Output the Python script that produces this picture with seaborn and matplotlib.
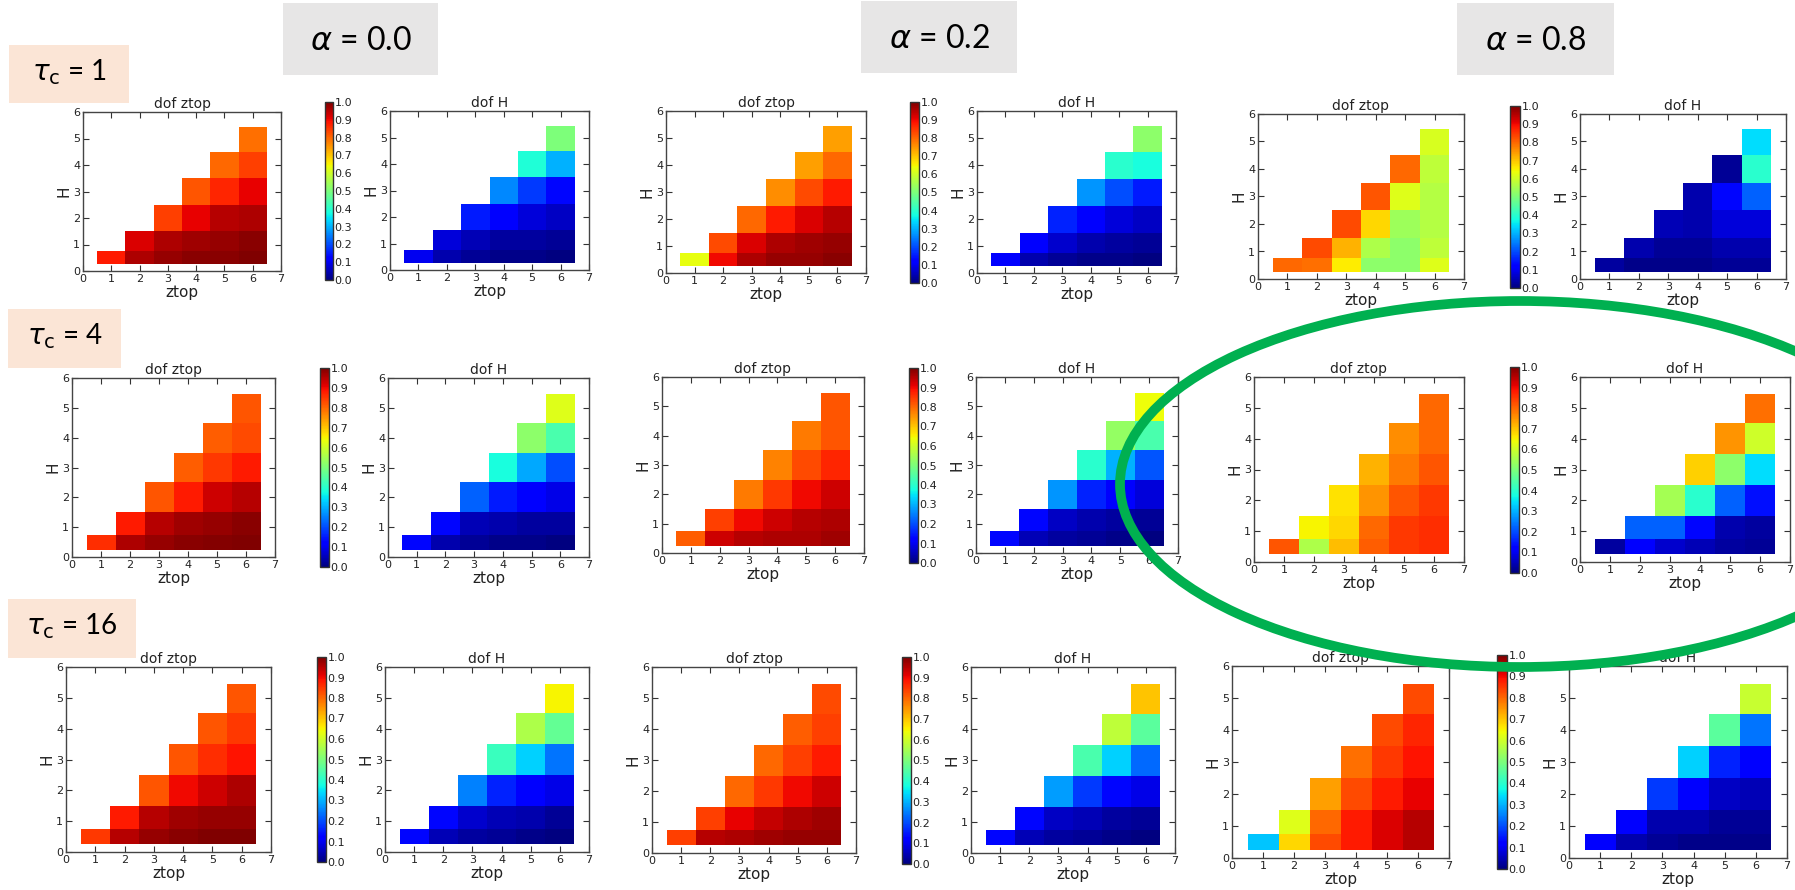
import numpy as np
import matplotlib
matplotlib.use("Agg")
import matplotlib as mpl
import matplotlib.pyplot as plt
import seaborn as sns
from matplotlib.patches import Rectangle, Ellipse
from matplotlib.cm import ScalarMappable
from matplotlib.colors import Normalize

# ---------------- data ----------------
ZTOP = [1, 2, 3, 4, 5, 6]
X_TICKS = [0, 1, 2, 3, 4, 5, 6, 7]
Y_TICKS = [0, 1, 2, 3, 4, 5, 6]
CB_TICKS = [0.0, 0.1, 0.2, 0.3, 0.4, 0.5, 0.6, 0.7, 0.8, 0.9, 1.0]
ALPHA_LABELS = ["0.0", "0.2", "0.8"]
TAU_LABELS = ["1", "4", "16"]

# each panel: list of columns (ztop = 1..6), values listed from bottom H row upward
tau1_a00_ztop = [[0.88], [0.96, 0.92], [0.98, 0.96, 0.84], [0.99, 0.97, 0.91, 0.82],
                 [0.99, 0.98, 0.95, 0.87, 0.80], [1.00, 0.99, 0.96, 0.91, 0.84, 0.79]]
tau1_a00_H = [[0.10], [0.04, 0.08], [0.02, 0.05, 0.15], [0.01, 0.03, 0.12, 0.26],
              [0.01, 0.03, 0.08, 0.18, 0.39], [0.00, 0.02, 0.06, 0.13, 0.30, 0.50]]
tau1_a02_ztop = [[0.63], [0.90, 0.83], [0.96, 0.92, 0.80], [0.98, 0.96, 0.88, 0.76],
                 [0.98, 0.97, 0.92, 0.83, 0.74], [0.99, 0.98, 0.95, 0.88, 0.80, 0.74]]
tau1_a02_H = [[0.11], [0.04, 0.12], [0.02, 0.07, 0.16], [0.01, 0.04, 0.12, 0.27],
              [0.01, 0.03, 0.08, 0.20, 0.40], [0.00, 0.02, 0.06, 0.15, 0.38, 0.52]]
tau1_a08_ztop = [[0.80], [0.79, 0.83], [0.66, 0.72, 0.83], [0.52, 0.56, 0.68, 0.82],
                 [0.52, 0.52, 0.54, 0.62, 0.80], [0.62, 0.58, 0.57, 0.57, 0.58, 0.61]]
tau1_a08_H = [[0.03], [0.01, 0.04], [0.01, 0.02, 0.05], [0.01, 0.02, 0.04, 0.04],
              [0.02, 0.04, 0.08, 0.13, 0.02], [0.02, 0.04, 0.08, 0.22, 0.40, 0.34]]

tau4_a00_ztop = [[0.86], [0.96, 0.88], [0.98, 0.95, 0.82], [0.99, 0.97, 0.88, 0.81],
                 [0.995, 0.98, 0.93, 0.85, 0.81], [1.00, 0.99, 0.95, 0.88, 0.83, 0.82]]
tau4_a00_H = [[0.13], [0.04, 0.13], [0.02, 0.05, 0.22], [0.01, 0.04, 0.15, 0.38],
              [0.01, 0.03, 0.12, 0.29, 0.52], [0.00, 0.03, 0.09, 0.20, 0.44, 0.62]]
tau4_a02_ztop = [[0.81], [0.93, 0.84], [0.95, 0.90, 0.78], [0.96, 0.93, 0.85, 0.77],
                 [0.96, 0.95, 0.90, 0.83, 0.78], [0.97, 0.96, 0.93, 0.87, 0.82, 0.82]]
tau4_a02_H = [[0.13], [0.05, 0.13], [0.03, 0.06, 0.27], [0.02, 0.04, 0.16, 0.40],
              [0.01, 0.03, 0.12, 0.30, 0.53], [0.00, 0.02, 0.08, 0.21, 0.44, 0.64]]
tau4_a08_ztop = [[0.82], [0.56, 0.65], [0.71, 0.68, 0.67], [0.81, 0.80, 0.75, 0.72],
                 [0.85, 0.85, 0.82, 0.78, 0.76], [0.86, 0.86, 0.85, 0.82, 0.80, 0.80]]
tau4_a08_H = [[0.03], [0.12, 0.22], [0.07, 0.22, 0.55], [0.05, 0.13, 0.40, 0.69],
              [0.03, 0.04, 0.22, 0.52, 0.75], [0.02, 0.03, 0.14, 0.34, 0.60, 0.79]]

tau16_a00_ztop = [[0.85], [0.95, 0.88], [0.98, 0.95, 0.82], [0.99, 0.97, 0.90, 0.82],
                  [1.00, 0.98, 0.93, 0.86, 0.82], [1.00, 0.98, 0.96, 0.89, 0.85, 0.82]]
tau16_a00_H = [[0.13], [0.05, 0.13], [0.03, 0.07, 0.25], [0.02, 0.05, 0.16, 0.42],
               [0.01, 0.04, 0.12, 0.33, 0.56], [0.00, 0.02, 0.09, 0.24, 0.47, 0.65]]
tau16_a02_ztop = [[0.84], [0.95, 0.84], [0.96, 0.91, 0.80], [0.97, 0.94, 0.85, 0.80],
                  [0.98, 0.96, 0.90, 0.84, 0.81], [0.98, 0.97, 0.93, 0.88, 0.84, 0.83]]
tau16_a02_H = [[0.13], [0.05, 0.13], [0.03, 0.06, 0.28], [0.02, 0.05, 0.18, 0.44],
               [0.01, 0.03, 0.13, 0.33, 0.58], [0.00, 0.02, 0.09, 0.23, 0.46, 0.70]]
tau16_a08_ztop = [[0.32], [0.68, 0.62], [0.83, 0.80, 0.74], [0.88, 0.88, 0.83, 0.79],
                  [0.92, 0.92, 0.88, 0.85, 0.83], [0.95, 0.95, 0.91, 0.89, 0.87, 0.83]]
tau16_a08_H = [[0.12], [0.04, 0.12], [0.02, 0.04, 0.18], [0.01, 0.04, 0.11, 0.33],
               [0.01, 0.02, 0.06, 0.16, 0.46], [0.01, 0.02, 0.05, 0.11, 0.24, 0.59]]

PANELS = [
    [(tau1_a00_ztop, tau1_a00_H), (tau1_a02_ztop, tau1_a02_H), (tau1_a08_ztop, tau1_a08_H)],
    [(tau4_a00_ztop, tau4_a00_H), (tau4_a02_ztop, tau4_a02_H), (tau4_a08_ztop, tau4_a08_H)],
    [(tau16_a00_ztop, tau16_a00_H), (tau16_a02_ztop, tau16_a02_H), (tau16_a08_ztop, tau16_a08_H)],
]

# ---------------- layout (pixels: x0, y0, x1, y1) ----------------
W, Hpx = 1795, 890
LAYOUT = {
    (0, 0): dict(z=(83, 112, 281, 271), cb=(325, 102, 333, 280), h=(390, 111, 589, 270)),
    (0, 1): dict(z=(666, 111, 866, 273), cb=(910, 102, 919, 283), h=(977, 111, 1176, 273)),
    (0, 2): dict(z=(1258, 114, 1464, 279), cb=(1510, 106, 1520, 288), h=(1580, 114, 1786, 279)),
    (1, 0): dict(z=(72, 378, 275, 557), cb=(320, 368, 329, 567), h=(388, 378, 589, 557)),
    (1, 1): dict(z=(662, 377, 864, 553), cb=(909, 368, 918, 563), h=(976, 377, 1178, 553)),
    (1, 2): dict(z=(1254, 377, 1464, 562), cb=(1510, 367, 1519, 573), h=(1580, 377, 1790, 562)),
    (2, 0): dict(z=(66, 667, 271, 852), cb=(317, 657, 326, 862), h=(385, 667, 589, 852)),
    (2, 1): dict(z=(652, 667, 856, 853), cb=(902, 657, 911, 864), h=(971, 667, 1175, 853)),
    (2, 2): dict(z=(1232, 666, 1449, 858), cb=(1497, 655, 1507, 869), h=(1569, 666, 1787, 858)),
}
ALPHA_BOXES = [(283, 3, 438, 75), (861, 1, 1017, 73), (1457, 3, 1614, 75)]
TAU_BOXES = [(9, 45, 129, 103), (8, 309, 121, 368), (8, 599, 136, 658)]

X_EDGES = [0.5, 1.5, 2.5, 3.5, 4.5, 5.5, 6.5]
Y_EDGES = [0.25, 0.75, 1.5, 2.5, 3.5, 4.5, 5.45]

sns.set_theme(style="ticks")
plt.rcParams["font.family"] = ["DejaVu Sans"]
plt.rcParams["axes.edgecolor"] = "#333333"
plt.rcParams["axes.linewidth"] = 1.0

cmap = mpl.colormaps["jet"]
norm = Normalize(vmin=0, vmax=1)

fig = plt.figure(figsize=(W / 100, Hpx / 100), dpi=100)
fig.patch.set_facecolor("white")


def rect(b):
    x0, y0, x1, y1 = b
    return [x0 / W, 1 - y1 / Hpx, (x1 - x0) / W, (y1 - y0) / Hpx]


def to_matrix(cols):
    m = np.full((6, 6), np.nan)
    for j, c in enumerate(cols):
        m[:len(c), j] = c
    return np.ma.masked_invalid(m)


def draw_panel(ax, cols, title):
    ax.set_facecolor("white")
    ax.pcolormesh(X_EDGES, Y_EDGES, to_matrix(cols), cmap=cmap, norm=norm)
    ax.set_xlim(0, 7)
    ax.set_ylim(0, 6)
    ax.set_xticks(X_TICKS)
    ax.set_yticks(Y_TICKS)
    ax.tick_params(direction="in", top=True, right=True, length=4, width=0.8,
                   labelsize=8, labelcolor="#222222", color="#333333", pad=2)
    ax.set_title(title, fontsize=10, pad=3, color="#222222")
    ax.set_xlabel("ztop", fontsize=11, labelpad=1, color="#222222")
    ax.set_ylabel("H", fontsize=11, labelpad=1, color="#222222")
    for s in ax.spines.values():
        s.set_visible(True)
        s.set_color("#444444")


for r in range(3):
    for c in range(3):
        lay = LAYOUT[(r, c)]
        zcols, hcols = PANELS[r][c]
        axz = fig.add_axes(rect(lay["z"]))
        draw_panel(axz, zcols, "dof ztop")
        axh = fig.add_axes(rect(lay["h"]))
        draw_panel(axh, hcols, "dof H")
        cax = fig.add_axes(rect(lay["cb"]))
        cb = fig.colorbar(ScalarMappable(norm=norm, cmap=cmap), cax=cax, ticks=CB_TICKS)
        cb.ax.set_yticklabels([f"{t:.1f}" for t in CB_TICKS])
        cb.ax.tick_params(labelsize=8, length=3, width=0.7, pad=1, labelcolor="#222222",
                          direction="in")
        cb.outline.set_edgecolor("#333333")
        cb.outline.set_linewidth(1.0)

# overlay for labels and ellipse
ov = fig.add_axes([0, 0, 1, 1], zorder=20)
ov.set_xlim(0, W)
ov.set_ylim(Hpx, 0)
ov.axis("off")
ov.patch.set_alpha(0)

for (x0, y0, x1, y1), lab in zip(ALPHA_BOXES, ALPHA_LABELS):
    ov.add_patch(Rectangle((x0, y0), x1 - x0, y1 - y0, facecolor="#E7E6E6",
                           edgecolor="none", zorder=1))
    ov.text((x0 + x1) / 2, (y0 + y1) / 2 + 2, r"$\alpha$ = " + lab, ha="center", va="center",
            fontsize=23, family=["Lato", "DejaVu Sans"], color="black", zorder=2)

for (x0, y0, x1, y1), lab in zip(TAU_BOXES, TAU_LABELS):
    ov.add_patch(Rectangle((x0, y0), x1 - x0, y1 - y0, facecolor="#FBE5D6",
                           edgecolor="none", zorder=1))
    ov.text((x0 + x1) / 2, (y0 + y1) / 2 - 2, r"$\tau_{\mathrm{c}}$ = " + lab, ha="center",
            va="center", fontsize=20, family=["Lato", "DejaVu Sans"], color="black", zorder=2)

ov.add_patch(Ellipse((1520, 484), 800, 366, fill=False, edgecolor="#00B050",
                     linewidth=7, zorder=5, clip_on=False))

fig.savefig("out.png", dpi=100, facecolor="white")
